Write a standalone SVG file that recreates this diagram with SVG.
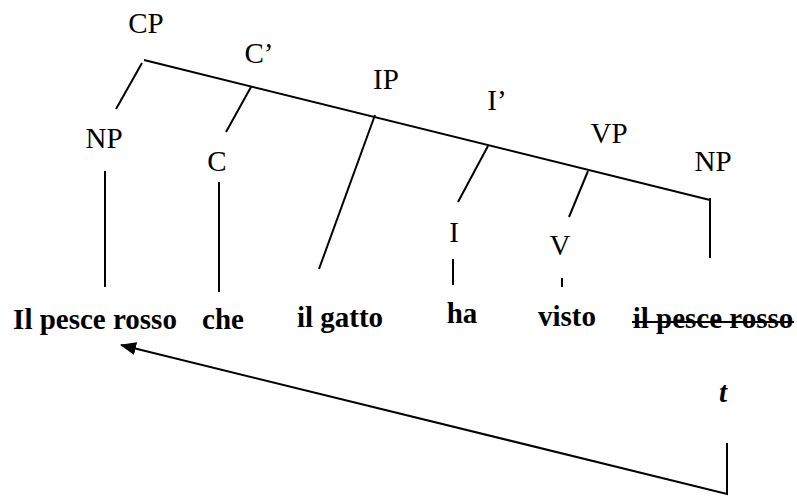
<svg xmlns="http://www.w3.org/2000/svg" width="797" height="497" viewBox="0 0 797 497">
<style>
.lbl{font-family:"Liberation Serif","Times New Roman",serif;font-size:29px;fill:#000;text-anchor:middle}
.w{font-family:"Liberation Serif","Times New Roman",serif;font-size:29px;font-weight:bold;fill:#000;text-anchor:middle}
.ln{stroke:#000;stroke-width:2;fill:none}
</style>
<defs>
<marker id="ah" markerWidth="16" markerHeight="13" refX="15" refY="6.5" orient="auto" markerUnits="userSpaceOnUse">
<path d="M0,0 L16,6.5 L0,13 Z" fill="#000"/>
</marker>
</defs>
<rect width="797" height="497" fill="#fff"/>
<g id="CP"><text class="lbl" x="146" y="33">CP</text></g>
<g id="Cbar"><text class="lbl" x="259" y="63">C’</text></g>
<g id="IP"><text class="lbl" x="386" y="89">IP</text></g>
<g id="Ibar"><text class="lbl" x="497" y="110">I’</text></g>
<g id="VP"><text class="lbl" x="609" y="143">VP</text></g>
<g id="NP2"><text class="lbl" x="713" y="171">NP</text></g>
<g id="NP1"><text class="lbl" x="104" y="148">NP</text></g>
<g id="C"><text class="lbl" x="217" y="171">C</text></g>
<g id="I"><text class="lbl" x="454" y="242">I</text></g>
<g id="V"><text class="lbl" x="560" y="255">V</text></g>
<g id="w1"><text class="w" x="95" y="329">Il pesce rosso</text></g>
<g id="w2"><text class="w" x="223" y="329">che</text></g>
<g id="w3"><text class="w" x="340" y="327">il gatto</text></g>
<g id="w4"><text class="w" x="462" y="323">ha</text></g>
<g id="w5"><text class="w" x="567" y="326">visto</text></g>
<g id="w6"><text class="w" x="713" y="328">il pesce rosso</text><line class="ln" x1="632" y1="322" x2="794" y2="322"/></g>
<g id="trace"><text class="w" x="723" y="402" font-style="italic" font-size="33">t</text></g>
<g id="connectors">
<line class="ln" x1="144" y1="60" x2="710" y2="200"/>
<line class="ln" x1="142" y1="63" x2="116" y2="109"/>
<line class="ln" x1="251" y1="87" x2="226" y2="132"/>
<line class="ln" x1="375" y1="115" x2="319" y2="269"/>
<line class="ln" x1="488" y1="146" x2="458" y2="202"/>
<line class="ln" x1="588" y1="171" x2="569" y2="217"/>
<line class="ln" x1="710" y1="198" x2="710" y2="258"/>
<line class="ln" x1="105" y1="171" x2="105" y2="287"/>
<line class="ln" x1="219" y1="182" x2="219" y2="292"/>
<line class="ln" x1="453" y1="259" x2="453" y2="285"/>
<line class="ln" x1="562" y1="278" x2="562" y2="287"/>
<path class="ln" d="M727,443 L727,494 L121,345" marker-end="url(#ah)"/>
</g>
</svg>
